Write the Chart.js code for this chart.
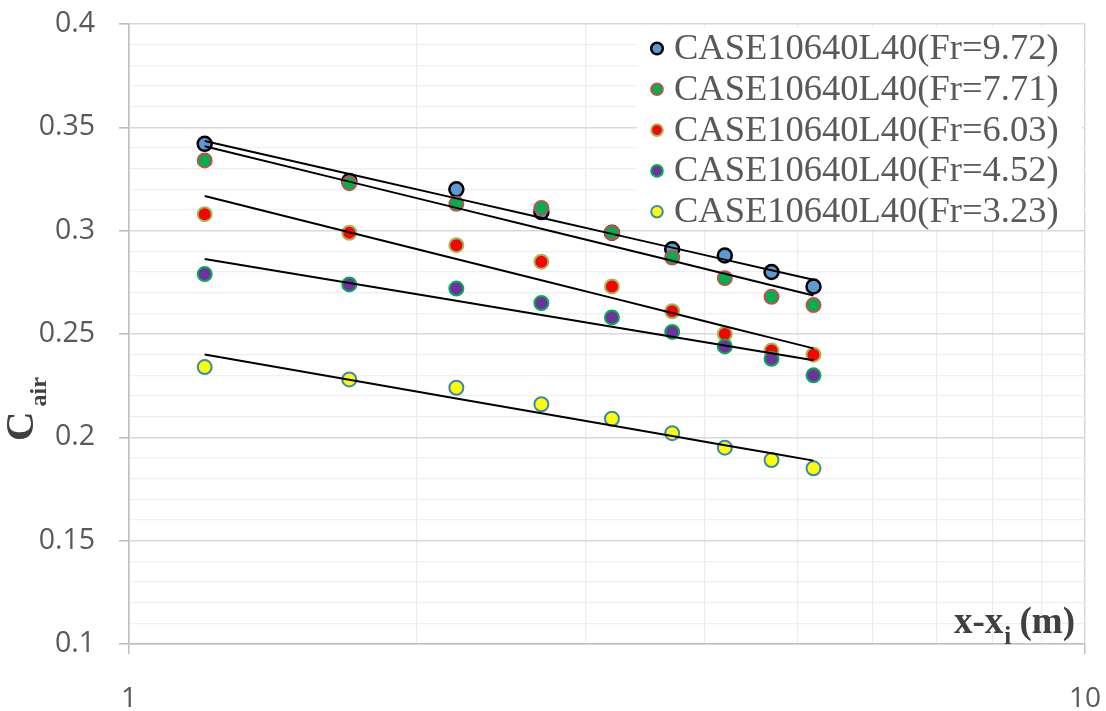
<!DOCTYPE html>
<html>
<head>
<meta charset="utf-8">
<script src="https://cdn.jsdelivr.net/npm/chart.js@4.4.1/dist/chart.umd.min.js"></script>
<style>
  html, body { margin: 0; padding: 0; background: #ffffff; }
  canvas { display: block; }
</style>
</head>
<body>
<canvas id="chart" width="1106" height="711"></canvas>
<script>
// Distance downstream of the jump toe, x - x_i (m)
const distances = [1.2, 1.7, 2.2, 2.7, 3.2, 3.7, 4.2, 4.7, 5.2];

// Mean air concentration C_air for each Froude number
const seriesNames = [
  'CASE10640L40(Fr=9.72)',
  'CASE10640L40(Fr=7.71)',
  'CASE10640L40(Fr=6.03)',
  'CASE10640L40(Fr=4.52)',
  'CASE10640L40(Fr=3.23)'
];
const cairFr972 = [0.342, 0.324, 0.320, 0.309, 0.299, 0.291, 0.288, 0.280, 0.273];
const cairFr771 = [0.334, 0.323, 0.313, 0.311, 0.299, 0.287, 0.277, 0.268, 0.264];
const cairFr603 = [0.308, 0.299, 0.293, 0.285, 0.273, 0.261, 0.250, 0.242, 0.240];
const cairFr452 = [0.279, 0.274, 0.272, 0.265, 0.258, 0.251, 0.244, 0.238, 0.230];
const cairFr323 = [0.234, 0.228, 0.224, 0.216, 0.209, 0.202, 0.195, 0.189, 0.185];

// Tick values and labels
const xTickValues = [1, 2, 3, 4, 5, 6, 7, 8, 9, 10];
const xTickLabels = [1, 10];
const yTickLabels = [0.1, 0.15, 0.2, 0.25, 0.3, 0.35, 0.4];

// Marker styles (fill / outline)
const fills   = ['#5b9bd5', '#00b050', '#ff0000', '#7030a0', '#ffff00'];
const borders = ['#000000', '#c0504d', '#9bbb59', '#00b050', '#3b87b3'];
const borderWidths = [2.5, 2, 2, 2, 2];

const allSeries = [cairFr972, cairFr771, cairFr603, cairFr452, cairFr323];

// Least-squares logarithmic trendline  y = a + b ln(x)
function logTrend(xs, ys) {
  const n = xs.length;
  const lx = xs.map(Math.log);
  const mx = lx.reduce((s, v) => s + v, 0) / n;
  const my = ys.reduce((s, v) => s + v, 0) / n;
  let sxy = 0, sxx = 0;
  for (let i = 0; i < n; i++) {
    sxy += (lx[i] - mx) * (ys[i] - my);
    sxx += (lx[i] - mx) * (lx[i] - mx);
  }
  const b = sxy / sxx, a = my - b * mx;
  return xs.map(x => ({ x: x, y: a + b * Math.log(x) }));
}

const datasets = [];
allSeries.forEach((ys, i) => {
  datasets.push({
    type: 'scatter',
    label: seriesNames[i],
    data: distances.map((x, k) => ({ x: x, y: ys[k] })),
    backgroundColor: fills[i],
    borderColor: borders[i],
    borderWidth: borderWidths[i],
    pointRadius: 7,
    pointHoverRadius: 7,
    order: 5 - i
  });
});
allSeries.forEach((ys, i) => {
  datasets.push({
    type: 'line',
    label: 'trend ' + seriesNames[i],
    isTrend: true,
    data: logTrend(distances, ys),
    borderColor: '#000000',
    borderWidth: 2,
    pointRadius: 0,
    fill: false,
    tension: 0,
    order: 0
  });
});

const near = (v, list) => list.some(t => Math.abs(t - v) < 1e-6);

// Legend drawn inside the plot, top right
const legendBox = {
  id: 'legendBox',
  afterDraw(chart) {
    const ctx = chart.ctx;
    const L = 637, T = 27, R = 1082, B = 229;
    ctx.save();
    ctx.fillStyle = '#ffffff';
    ctx.fillRect(L, T, R - L, B - T);
    ctx.font = '36.5px "Liberation Serif", "Times New Roman", serif';
    ctx.textBaseline = 'middle';
    ctx.textAlign = 'left';
    chart.data.datasets.filter(d => !d.isTrend).forEach((d, i) => {
      const y = 48.5 + i * 40.8;
      ctx.beginPath();
      ctx.arc(657, y, 5.8, 0, Math.PI * 2);
      ctx.fillStyle = d.backgroundColor;
      ctx.fill();
      ctx.lineWidth = d.borderWidth;
      ctx.strokeStyle = d.borderColor;
      ctx.stroke();
      ctx.fillStyle = '#595959';
      ctx.fillText(d.label, 674, y + 1);
    });
    ctx.restore();
  }
};

// Axis titles with subscripts
const axisTitles = {
  id: 'axisTitles',
  afterDraw(chart) {
    const ctx = chart.ctx;
    ctx.save();
    ctx.fillStyle = '#404040';
    // y title: C_air, rotated
    ctx.translate(33, 441);
    ctx.rotate(-Math.PI / 2);
    ctx.font = 'bold 41px "Liberation Serif", "Times New Roman", serif';
    ctx.textBaseline = 'alphabetic';
    ctx.fillText('C', 0, 0);
    const wC = ctx.measureText('C').width;
    ctx.font = 'bold 24px "Liberation Serif", "Times New Roman", serif';
    ctx.fillText('air', wC + 5, 13);
    ctx.restore();

    // x title: x-x_i (m)
    ctx.save();
    ctx.fillStyle = '#404040';
    const big = 'bold 37px "Liberation Serif", "Times New Roman", serif';
    const small = 'bold 25px "Liberation Serif", "Times New Roman", serif';
    ctx.font = big;
    const w1 = ctx.measureText('x-x').width;
    const w3 = ctx.measureText(' (m)').width;
    ctx.font = small;
    const w2 = ctx.measureText('i').width;
    const right = 1075, base = 633;
    let x = right - (w1 + w2 + w3);
    ctx.textBaseline = 'alphabetic';
    ctx.font = big; ctx.fillText('x-x', x, base); x += w1;
    ctx.font = small; ctx.fillText('i', x + 1, base + 11); x += w2;
    ctx.font = big; ctx.fillText(' (m)', x, base);
    ctx.restore();
  }
};

new Chart(document.getElementById('chart'), {
  data: { datasets: datasets },
  options: {
    responsive: false,
    animation: false,
    devicePixelRatio: 1,
    layout: { padding: { left: 0, right: 21, top: 24, bottom: 0 } },
    plugins: {
      legend: { display: false },
      tooltip: { enabled: false }
    },
    scales: {
      x: {
        type: 'logarithmic',
        min: 1,
        max: 10,
        afterBuildTicks(s) { s.ticks = xTickValues.map(v => ({ value: v })); },
        afterFit(s) { s.height = 67; s.paddingLeft = 0; s.paddingRight = 0; },
        border: { color: '#bfbfbf', width: 1.5 },
        grid: {
          color: c => near(c.tick.value, xTickLabels) ? '#d9d9d9' : '#ececec',
          lineWidth: c => near(c.tick.value, xTickLabels) ? 1.5 : 1.2,
          tickColor: c => near(c.tick.value, xTickLabels) ? '#bfbfbf' : 'rgba(0,0,0,0)',
          tickLength: 10
        },
        ticks: {
          autoSkip: false,
          maxRotation: 0,
          padding: 28,
          color: '#595959',
          font: { family: '"Open Sans", sans-serif', size: 28 },
          callback: v => near(v, xTickLabels) ? String(v) : ''
        }
      },
      y: {
        type: 'linear',
        min: 0.1,
        max: 0.4,
        afterFit(s) { s.width = 129; s.paddingTop = 0; s.paddingBottom = 0; },
        border: { color: '#bfbfbf', width: 1.5 },
        grid: {
          color: c => near(c.tick.value, yTickLabels) ? '#d9d9d9' : '#efefef',
          lineWidth: c => near(c.tick.value, yTickLabels) ? 1.6 : 1.2,
          tickColor: c => near(c.tick.value, yTickLabels) ? '#bfbfbf' : 'rgba(0,0,0,0)',
          tickLength: 10
        },
        ticks: {
          stepSize: 0.01,
          autoSkip: false,
          padding: 24,
          color: '#595959',
          font: { family: '"Open Sans", sans-serif', size: 28.5 },
          callback: v => near(v, yTickLabels) ? String(+v.toFixed(2)) : ''
        }
      }
    }
  },
  plugins: [legendBox, axisTitles]
});
</script>
</body>
</html>
